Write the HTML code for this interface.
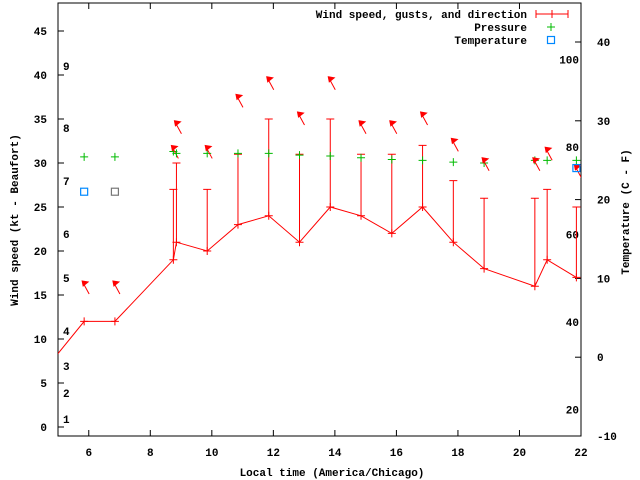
<!DOCTYPE html>
<html><head><meta charset="utf-8"><style>
body{margin:0;background:#fff}
svg{display:block;font-family:"Liberation Mono",monospace;font-weight:bold;font-size:11px}
</style></head><body>
<svg id="chart" width="640" height="480" viewBox="0 0 640 480" xmlns="http://www.w3.org/2000/svg">
<g id="axes"></g><g id="marks"></g><g id="legend"></g>
</svg>
<script>
const hours=[4.85,5.85,6.85,8.75,8.85,9.85,10.85,11.85,12.85,13.85,14.85,15.85,16.85,17.85,18.85,20.5,20.9,21.85];
const speeds=[7.7,12,12,19,21,20,23,24,21,25,24,22,25,21,18,16,19,17];
const gusts=[null,null,null,27,30,27,31,35,31,35,31,31,32,28,26,26,27,25];
const pressure=[null,30.7,30.7,31.3,31.1,31.1,31.1,31.1,30.9,30.8,30.6,30.4,30.3,30.1,30.0,30.3,30.3,30.3];
const arrowLevel=[null,15.8,15.8,31.2,34,31.2,37,39,35,39,34,34,35,32,29.8,29.8,31,29];
const tempHours=[5.85,6.85,21.85];
const tempC=[21,21,24];
const xTicks=[6,8,10,12,14,16,18,20,22];
const yTicks=[0,5,10,15,20,25,30,35,40,45];
const cTicks=[-10,0,10,20,30,40];
const fTicks=[20,40,60,80,100];
const beaufort=[[1,419],[2,393],[3,366],[4,331],[5,278],[6,234],[7,181],[8,128],[9,66]];

const L=58,R=581,T=3,B=436;
const X=h=>L+(h-5)*(R-L)/17;
const Y=k=>427-k*8.8;
const YC=c=>B-(c+10)*7.88;
const NS="http://www.w3.org/2000/svg";
function mk(p,tag,attrs,txt){const e=document.createElementNS(NS,tag);for(const k in attrs)e.setAttribute(k,attrs[k]);if(txt!=null)e.textContent=txt;p.appendChild(e);return e;}
const ax=document.getElementById('axes'),mg=document.getElementById('marks'),lg=document.getElementById('legend');

let fr=mk(ax,'rect',{x:L,y:T,width:R-L,height:B-T,fill:'none',stroke:'#000','stroke-width':1});


xTicks.forEach(t=>{const x=X(t);
 mk(ax,'line',{x1:x,y1:B,x2:x,y2:B-6,stroke:'#000'});
 mk(ax,'line',{x1:x,y1:T,x2:x,y2:T+6,stroke:'#000'});
 let e=mk(ax,'text',{x:x,y:B+20,'text-anchor':'middle'},t);
 
 
});
yTicks.forEach(t=>{const y=Y(t);
 mk(ax,'line',{x1:L,y1:y,x2:L+6,y2:y,stroke:'#000'});
 let e=mk(ax,'text',{x:L-11,y:y+4,'text-anchor':'end'},t);
 
 
});
cTicks.forEach(t=>{const y=YC(t);
 mk(ax,'line',{x1:R,y1:y,x2:R-6,y2:y,stroke:'#000'});
 let e=mk(ax,'text',{x:597,y:y+4},t);
 
 
});
fTicks.forEach(t=>{const y=YC((t-32)*5/9);
 let e=mk(ax,'text',{x:579,y:y+4,'text-anchor':'end'},t);
 
 
});
beaufort.forEach(b=>{
 let e=mk(ax,'text',{x:63,y:b[1]+4},b[0]);
 
 
});
let xt=mk(ax,'text',{x:332,y:476,'text-anchor':'middle'},'Local time (America/Chicago)');


let yt=mk(ax,'text',{x:0,y:0,'text-anchor':'middle',transform:'translate(18,220) rotate(-90)'},'Wind speed (kt - Beaufort)');


let y2=mk(ax,'text',{x:0,y:0,'text-anchor':'middle',transform:'translate(629,212) rotate(-90)'},'Temperature (C - F)');



// clip
const defs=mk(mg,'defs',{});const cp=mk(defs,'clipPath',{id:'cp'});mk(cp,'rect',{x:L,y:T,width:R-L,height:B-T});
const g=mk(mg,'g',{'clip-path':'url(#cp)'});
const pts=hours.map((h,i)=>X(h)+','+Y(speeds[i])).join(' ');
let ln=mk(g,'polyline',{points:pts,fill:'none',stroke:'#f00','stroke-width':1});


function plus(x,y,c,n){const p=mk(g,'path',{d:`M${x-4},${y}h8M${x},${y-4}v8`,stroke:c,'stroke-width':1,fill:'none'});}
hours.forEach((h,i)=>{const x=X(h),y=Y(speeds[i]);
 plus(x,y,'#f00','wind-speed-point');
 if(gusts[i]!=null){const gy=Y(gusts[i]);
  let e=mk(g,'path',{d:`M${x},${y}V${gy}M${x-4},${gy}h8`,stroke:'#f00',fill:'none'});
  
  }
 if(pressure[i]!=null)plus(x,Y(pressure[i]),'#0b0','pressure-point');
 if(arrowLevel[i]!=null){const ay=Y(arrowLevel[i]);
  let a=mk(g,'g',{});
  
  
  mk(a,'line',{x1:x+5,y1:ay+6,x2:x-1,y2:ay-5,stroke:'#f00','stroke-width':1});
  mk(a,'path',{d:`M${x-2},${ay-7}L${x+4},${ay-6}L${x-1},${ay-2}Z`,fill:'#f00',stroke:'#f00'});
 }
});
tempHours.forEach((h,i)=>{
 let s=mk(g,'rect',{x:X(h)-3.5,y:YC(tempC[i])-3.5,width:7,height:7,fill:'none',stroke:i==1?'#777':'#08f','stroke-width':1.2});
 
 
});
// legend
[['Wind speed, gusts, and direction',14],['Pressure',27],['Temperature',40]].forEach((l,i)=>{
 let e=mk(lg,'text',{x:527,y:l[1]+4,'text-anchor':'end'},l[0]);
 
 
});
let l1=mk(lg,'path',{d:'M536,14H568M536,10v8M568,10v8M552,10v8',stroke:'#f00',fill:'none'});


let l2=mk(lg,'path',{d:'M547,27h8M551,23v8',stroke:'#0b0',fill:'none'});


let l3=mk(lg,'rect',{x:547.5,y:36.5,width:7,height:7,fill:'none',stroke:'#08f','stroke-width':1.2});


</script>
</body></html>
